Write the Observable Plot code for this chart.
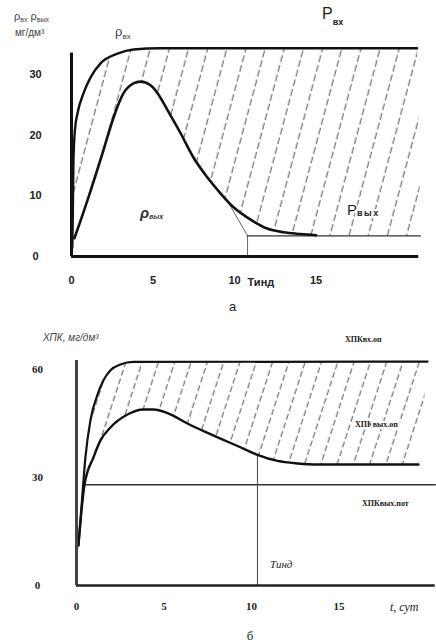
<!DOCTYPE html>
<html><head><meta charset="utf-8">
<script src="https://cdn.jsdelivr.net/npm/d3@7"></script>
<script src="https://cdn.jsdelivr.net/npm/@observablehq/plot@0.6"></script>
<style>
body{margin:0;background:#fff;}
#chart svg{display:block;}
</style></head><body>
<svg width="0" height="0" style="position:absolute">
<defs>
<pattern id="hatchA" patternUnits="userSpaceOnUse" width="18.5" height="10" patternTransform="rotate(15)">
<line x1="9" y1="0" x2="9" y2="7" stroke="#3a3a3a" stroke-width="0.9"/>
</pattern>
<pattern id="hatchB" patternUnits="userSpaceOnUse" width="15.5" height="9" patternTransform="rotate(18)">
<line x1="8" y1="0" x2="8" y2="6" stroke="#3a3a3a" stroke-width="0.9"/>
</pattern>
</defs></svg>
<div id="chart"></div>
<script>
// ---------- Panel а : concentrations, mg/dm3 vs time, days ----------
const aTicksX = [0, 5, 10, 15];
const aTicksY = [0, 10, 20, 30];
const pInT  = [0.05, 0.09, 0.12, 0.21, 0.37, 0.74, 1.17, 1.78, 2.82, 3.8, 5.46, 21.2];
const pInV  = [1.5, 9.2, 15.8, 20.8, 23.6, 26.9, 29.5, 31.8, 33.4, 34.1, 34.3, 34.3];
const pOutT = [0.18, 1.07, 1.96, 2.58, 3.19, 3.8, 4.23, 4.85, 5.28, 5.89, 6.69, 7.48, 8.34, 9.14, 9.94, 10.8, 12.0, 13.0, 14.05, 15.0];
const pOutV = [3.0, 10.0, 17.5, 22.9, 26.9, 28.5, 28.8, 28.2, 26.9, 24.1, 20.3, 16.3, 13.0, 10.4, 8.1, 6.4, 4.6, 4.0, 3.7, 3.5];
const aTind = 10.8;
const aTangentT = [9.6, 10.8];
const aTangentV = [9.0, 3.4];
const aAsymT = [10.8, 21.4];
const aAsymV = 3.4;

// ---------- Panel б : COD (ХПК) vs time ----------
const bTicksX = [0, 5, 10, 15];
const bTicksY = [0, 30, 60];
const codInT  = [0.11, 0.29, 0.51, 0.8, 1.2, 1.54, 1.94, 2.51, 3.26, 20.06];
const codInV  = [11.1, 22.2, 35.6, 46.0, 53.0, 57.0, 59.8, 61.4, 62.1, 62.2];
const codOutT = [0.11, 0.46, 0.97, 1.37, 1.94, 2.91, 3.83, 4.4, 5.2, 6.34, 7.49, 8.23, 9.37, 10.34, 11.49, 12.63, 13.77, 19.54];
const codOutV = [11.1, 28.1, 35.6, 40.3, 43.9, 47.5, 48.9, 48.9, 47.9, 45.0, 42.4, 40.8, 38.4, 36.3, 34.6, 33.9, 33.6, 33.6];
const codPotT = [0.4, 20.5];
const codPotV = 28;
const bTind = 10.34;
const bTindV = 36.3;

const rows = (T, V) => T.map((t, i) => ({t, v: Array.isArray(V) ? V[i] : V}));
const pIn = rows(pInT, pInV), pOut = rows(pOutT, pOutV);
const aTangent = rows(aTangentT, aTangentV), aAsym = rows(aAsymT, aAsymV);
const aHatch = [...pIn, aAsym[1], ...pOut.slice().reverse()];
const codIn = rows(codInT, codInV), codOut = rows(codOutT, codOutV), codPot = rows(codPotT, codPotV);
const bHatch = [...codIn, ...codOut.slice().reverse()];

// label helper: parts = [text, fontSize, sub?, weight, letterSpacing]
function addLabel(svg, t, v, parts, o = {}) {
  const x = svg.scale("x").apply(t), y = svg.scale("y").apply(v);
  const txt = d3.select(svg).append("text").attr("x", x).attr("y", y)
    .attr("fill", o.fill || "#222").attr("font-family", o.font || null)
    .attr("font-style", o.italic ? "italic" : null)
    .attr("text-anchor", o.anchor || "start");
  if (o.halo) txt.attr("stroke", "white").attr("stroke-width", 4).attr("paint-order", "stroke");
  let shifted = 0;
  parts.forEach(([s, size, sub, weight, ls]) => {
    const want = sub ? (typeof sub === "number" ? sub : 3) : 0;
    const ts = txt.append("tspan").attr("font-size", size).attr("dy", want - shifted).text(s);
    if (weight) ts.attr("font-weight", weight);
    if (ls) ts.attr("letter-spacing", ls);
    shifted = want;
  });
}

const sans = "Liberation Sans, Arial, sans-serif";
const serif = "Liberation Serif, Times New Roman, serif";

const plotA = Plot.plot({
  width: 436, height: 320,
  marginLeft: 71, marginRight: 14.5, marginTop: 43.5, marginBottom: 64,
  x: {domain: [0, 21.5]}, y: {domain: [0, 35]},
  style: {fontFamily: sans, fontSize: "11px", color: "#222", background: "white"},
  marks: [
    Plot.line(aHatch, {x: "t", y: "v", fill: "url(#hatchA)", stroke: "none", curve: "linear"}),
    Plot.line(aTangent, {x: "t", y: "v", stroke: "#555", strokeWidth: 0.9}),
    Plot.ruleX([aTind], {y1: 0, y2: aAsymV, stroke: "#555", strokeWidth: 0.9}),
    Plot.line(aAsym, {x: "t", y: "v", stroke: "#333", strokeWidth: 1.4}),
    Plot.line(pIn, {x: "t", y: "v", stroke: "#111", strokeWidth: 2.4, curve: "monotone-x"}),
    Plot.line(pOut, {x: "t", y: "v", stroke: "#111", strokeWidth: 2.6, curve: "monotone-x"}),
    Plot.ruleX([0], {y1: 0, y2: 33.5, stroke: "#111", strokeWidth: 3}),
    Plot.ruleY([0], {x1: 0, x2: 21.3, stroke: "#111", strokeWidth: 3}),
    Plot.axisY({ticks: aTicksY, tickSize: 0, tickPadding: 36, textAnchor: "middle", fontWeight: "bold", label: null}),
    Plot.axisX({ticks: aTicksX, tickSize: 0, tickPadding: 20, fontWeight: "bold", label: null}),
    Plot.text(["Тинд"], {x: aTind, y: -4.8, dx: 0, textAnchor: "start", lineAnchor: "bottom", fontWeight: "bold", fill: "#222"}),
    Plot.text(["а"], {x: 9.88, y: -8.9, lineAnchor: "bottom", fontSize: 13, fill: "#222"})
  ]
});

addLabel(plotA, -3.5, 38.9, [["ρ", 11], ["вх", 7, 2], [" ρ", 11], ["вых", 7, 2]], {fill: "#444"});
addLabel(plotA, -3.44, 36.3, [["мг/дм³", 10]], {fill: "#444"});
addLabel(plotA, 2.7, 36.2, [["ρ", 13], ["вх", 8, true]], {fill: "#444"});
addLabel(plotA, 15.4, 39.0, [["P", 16], ["вх", 9, 6, "bold"]], {fill: "#222"});
addLabel(plotA, 4.23, 6.26, [["ρ", 15, false, "bold"], ["вых", 7, 1, "bold"]], {fill: "#333", italic: true});
addLabel(plotA, 16.93, 6.75, [["P", 15], ["вых", 9, 1, "bold", 1.5]], {fill: "#222", halo: true});

const plotB = Plot.plot({
  width: 436, height: 324,
  marginLeft: 76, marginRight: 1.25, marginTop: 31, marginBottom: 59,
  x: {domain: [0, 20.5]}, y: {domain: [0, 65]},
  style: {fontFamily: serif, fontSize: "11px", color: "#222", background: "white"},
  marks: [
    Plot.line(bHatch, {x: "t", y: "v", fill: "url(#hatchB)", stroke: "none"}),
    Plot.line(codPot, {x: "t", y: "v", stroke: "#333", strokeWidth: 1.5}),
    Plot.ruleX([bTind], {y1: 0, y2: bTindV, stroke: "#444", strokeWidth: 1}),
    Plot.line(codIn, {x: "t", y: "v", stroke: "#111", strokeWidth: 2.2, curve: "monotone-x"}),
    Plot.line(codOut, {x: "t", y: "v", stroke: "#111", strokeWidth: 2.4, curve: "monotone-x"}),
    Plot.ruleX([0], {y1: 0, y2: 62.5, stroke: "#444", strokeWidth: 3}),
    Plot.ruleY([0], {x1: 0, x2: 20.5, stroke: "#222", strokeWidth: 2.6}),
    Plot.axisY({ticks: bTicksY, tickSize: 0, tickPadding: 39, textAnchor: "middle", fontWeight: "bold", label: null}),
    Plot.axisX({ticks: bTicksX, tickSize: 0, tickPadding: 17, fontWeight: "bold", label: null})
  ]
});

addLabel(plotB, -1.89, 67.8, [["ХПК, мг/дм³", 10]], {fill: "#444", italic: true, font: sans});
addLabel(plotB, 15.37, 67.5, [["ХПК", 8, false, "bold"], ["вх.оп", 8, 0, "bold"]], {fill: "#222"});
addLabel(plotB, 15.94, 43.9, [["ХПК", 8, false, "bold"], ["вых.оп", 8, 0, "bold"]], {fill: "#222", halo: true});
addLabel(plotB, 16.34, 21.9, [["ХПК", 8, false, "bold"], ["вых.пот", 8, 0, "bold"]], {fill: "#222"});
addLabel(plotB, 11.09, 4.7, [["Тинд", 11]], {fill: "#222", italic: true});
addLabel(plotB, 17.94, -7.2, [["t, сут", 12]], {fill: "#222", italic: true});
addLabel(plotB, 9.94, -15.3, [["б", 13]], {fill: "#222", anchor: "middle"});

document.getElementById("chart").append(plotA, plotB);
</script>
</body></html>
